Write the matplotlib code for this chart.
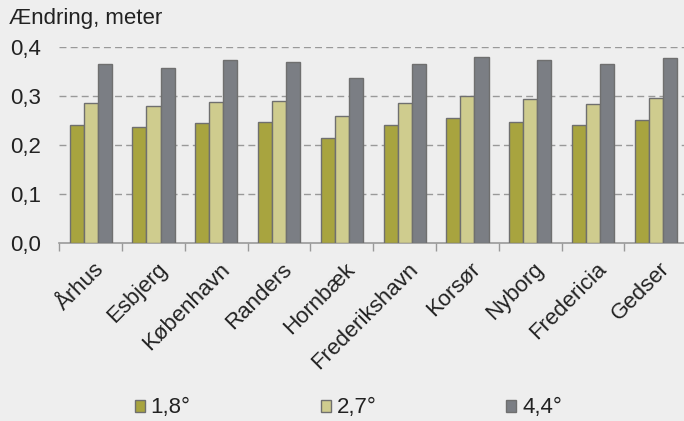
import numpy as np
import matplotlib.pyplot as plt

plt.rcParams['font.family'] = ['Liberation Sans', 'DejaVu Sans']

# Sea level change per city for three warming scenarios
cities = ['Århus', 'Esbjerg', 'København', 'Randers', 'Hornbæk',
          'Frederikshavn', 'Korsør', 'Nyborg', 'Fredericia', 'Gedser']
s18 = [0.242, 0.238, 0.245, 0.247, 0.215, 0.241, 0.256, 0.248, 0.242, 0.252]
s27 = [0.286, 0.281, 0.288, 0.290, 0.259, 0.286, 0.301, 0.294, 0.285, 0.296]
s44 = [0.365, 0.357, 0.373, 0.369, 0.338, 0.365, 0.381, 0.374, 0.366, 0.379]
labels = ['1,8°', '2,7°', '4,4°']
colors = ['#a8a43f', '#cfcc8e', '#7b7e84']
yticks = [0.0, 0.1, 0.2, 0.3, 0.4]
ytick_labels = ['0,0', '0,1', '0,2', '0,3', '0,4']

bg = '#eeeeee'
fs = 16
fig = plt.figure(figsize=(6.84, 4.21), dpi=100, facecolor=bg)
ax = fig.add_axes([0.0867, 0.422, 0.918, 0.467])
ax.set_facecolor(bg)

x = np.arange(len(cities))
w = 0.224
for i, (vals, lab, c) in enumerate(zip([s18, s27, s44], labels, colors)):
    ax.bar(x + (i - 1) * w, vals, width=w, color=c, edgecolor='#6f6f6f',
           linewidth=1.0, label=lab, zorder=3)

ax.set_xlim(-0.5, len(cities) - 0.5)
ax.set_ylim(0, 0.401)
ax.set_yticks(yticks)
ax.set_yticklabels(ytick_labels, fontsize=fs, color='#222222')
ax.tick_params(axis='y', length=0, pad=13)
for yv in yticks[1:]:
    ax.axhline(yv, color='#999999', linestyle=(0, (5, 3)), linewidth=1.0, zorder=1)

# tick marks between categories
ax.set_xticks(np.arange(len(cities) + 1) - 0.5)
ax.set_xticklabels([])
ax.tick_params(axis='x', direction='out', length=6, color='#999999', width=1)
for xi, name in zip(x, cities):
    ax.annotate(name, xy=(xi, 0), xycoords=('data', 'axes fraction'),
                xytext=(2, -11), textcoords='offset points',
                rotation=45, ha='right', va='top', rotation_mode='anchor',
                fontsize=fs, color='#222222')

for s in ['top', 'right', 'left']:
    ax.spines[s].set_visible(False)
ax.spines['bottom'].set_color('#999999')
ax.spines['bottom'].set_linewidth(1.2)

fig.text(0.013, 0.957, 'Ændring, meter', fontsize=fs, color='#222222',
         ha='left', va='center')

leg = fig.legend(loc='center', bbox_to_anchor=(0.5095, 0.031), ncol=3,
                 frameon=False, fontsize=fs, handlelength=0.45,
                 handleheight=0.45, handletextpad=0.27, columnspacing=5.85,
                 borderpad=0, borderaxespad=0)
for t in leg.get_texts():
    t.set_color('#222222')

plt.savefig('out.png', dpi=100, facecolor=bg)
